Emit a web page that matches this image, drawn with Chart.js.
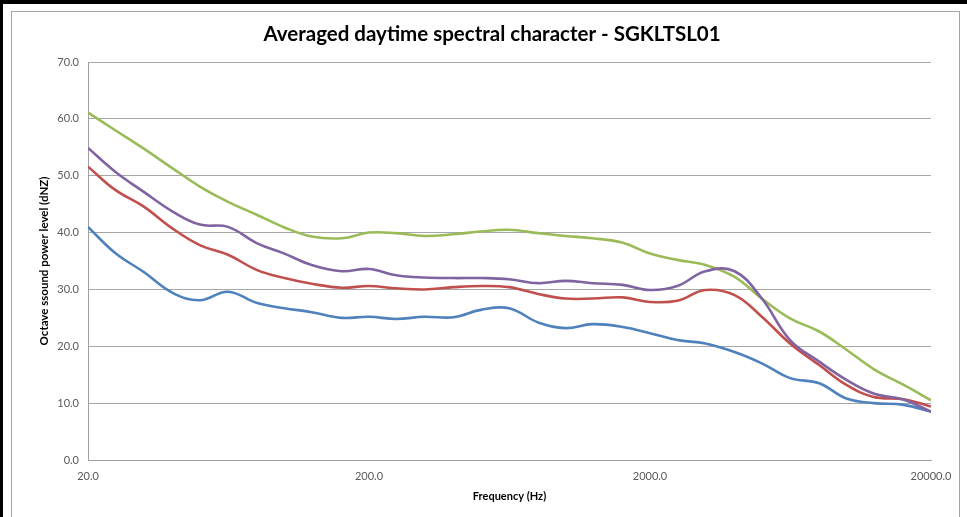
<!DOCTYPE html>
<html>
<head>
<meta charset="utf-8">
<script src="https://cdn.jsdelivr.net/npm/chart.js@4/dist/chart.umd.min.js"></script>
<style>
html,body{margin:0;padding:0;background:#fff;}
#wrap{width:967px;height:517px;position:relative;}
</style>
</head>
<body>
<div id="wrap"><canvas id="c" width="967" height="517"></canvas></div>
<script>
const chartTitle = "Averaged daytime spectral character - SGKLTSL01";
const xAxisTitle = "Frequency (Hz)";
const yAxisTitle = "Octave ssound power level (dNZ)";

const frequencies = [20,25,31.5,40,50,63,80,100,125,160,200,250,315,400,500,630,800,1000,1250,1600,2000,2500,3150,4000,5000,6300,8000,10000,12500,16000,20000];
const xTickValues = [20,200,2000,20000];
const yTickValues = [0,10,20,30,40,50,60,70];

const blueSeries   = [41.0,36.4,33.1,29.4,28.1,29.6,27.6,26.7,26.0,25.0,25.2,24.8,25.2,25.1,26.4,26.7,24.2,23.2,23.9,23.4,22.3,21.1,20.5,19.0,17.0,14.4,13.5,10.8,10.0,9.7,8.5];
const redSeries    = [51.6,47.5,44.6,40.7,37.8,36.1,33.4,32.0,31.0,30.3,30.6,30.2,30.0,30.4,30.6,30.4,29.2,28.4,28.4,28.6,27.8,28.0,29.9,29.0,25.2,20.5,16.7,13.2,11.1,10.7,9.4];
const greenSeries  = [61.1,58.0,54.8,51.3,48.1,45.4,43.1,40.9,39.3,39.0,40.0,39.9,39.4,39.7,40.2,40.5,39.9,39.4,39.0,38.2,36.3,35.2,34.3,32.2,28.4,24.9,22.6,19.4,16.0,13.2,10.5];
const purpleSeries = [54.9,50.7,47.2,43.7,41.4,41.0,38.1,36.3,34.3,33.2,33.6,32.5,32.1,32.0,32.0,31.8,31.1,31.5,31.1,30.8,29.9,30.6,33.2,33.2,28.4,21.1,17.3,14.1,11.7,10.6,8.5];

function pts(vals){ return frequencies.map((f,i)=>({x:f,y:vals[i]})); }
function ds(vals,color){
  return {data:pts(vals),borderColor:color,backgroundColor:color,borderWidth:2.6,pointRadius:0,tension:0.4,fill:false};
}

const framePlugin = {
  id:'frame',
  beforeDraw(chart){
    const ctx = chart.ctx;
    ctx.save();
    ctx.fillStyle='#ffffff';
    ctx.fillRect(0,0,chart.width,chart.height);
    ctx.fillStyle='#000000';
    ctx.fillRect(0,0,chart.width,4);
    ctx.fillRect(0,0,3,chart.height);
    ctx.strokeStyle='#a6a6a6';
    ctx.lineWidth=1;
    ctx.strokeRect(11.5,11.5,948,520);
    ctx.restore();
  },
  afterDraw(chart){
    const ctx = chart.ctx;
    ctx.save();
    ctx.fillStyle='#000000';
    ctx.font='bold 20.5px Lato, "Liberation Sans", sans-serif';
    ctx.textAlign='center';
    ctx.textBaseline='middle';
    ctx.fillText(chartTitle, 492, 34);
    ctx.restore();
  }
};

new Chart(document.getElementById('c'), {
  type:'line',
  data:{datasets:[ds(purpleSeries,'#8064A2'), ds(greenSeries,'#9BBB59'), ds(redSeries,'#C0504D'), ds(blueSeries,'#4F81BD')]},
  options:{
    responsive:false,
    animation:false,
    events:[],
    layout:{padding:{left:30,right:36,top:62,bottom:10}},
    plugins:{legend:{display:false},title:{display:false},tooltip:{enabled:false}},
    scales:{
      x:{
        type:'logarithmic',min:20,max:20000,
        afterBuildTicks(s){ s.ticks = xTickValues.map(v=>({value:v})); },
        afterFit(s){ s.height = 47; },
        grid:{display:false,drawTicks:false},
        border:{display:true,color:'#a0a0a0',width:1},
        ticks:{color:'#595959',font:{family:'Lato, "Liberation Sans", sans-serif',size:11},padding:10,maxRotation:0,autoSkip:false,
          callback:(v)=>Number(v).toFixed(1)},
        title:{display:true,text:xAxisTitle,color:'#000',font:{family:'Lato, "Liberation Sans", sans-serif',size:11,weight:'bold'},padding:{top:4,bottom:4}}
      },
      y:{
        min:0,max:70,
        afterBuildTicks(s){ s.ticks = yTickValues.map(v=>({value:v})); },
        afterFit(s){ s.width = 58; },
        grid:{color:'#a6a6a6',lineWidth:1,drawTicks:false},
        border:{display:true,color:'#a0a0a0',width:1},
        ticks:{color:'#595959',font:{family:'Lato, "Liberation Sans", sans-serif',size:11},padding:9,
          callback:(v)=>Number(v).toFixed(1)},
        title:{display:true,text:yAxisTitle,color:'#000',font:{family:'Lato, "Liberation Sans", sans-serif',size:11.5,weight:'bold'},padding:{top:7,bottom:0}}
      }
    }
  },
  plugins:[framePlugin]
});
</script>
</body>
</html>
